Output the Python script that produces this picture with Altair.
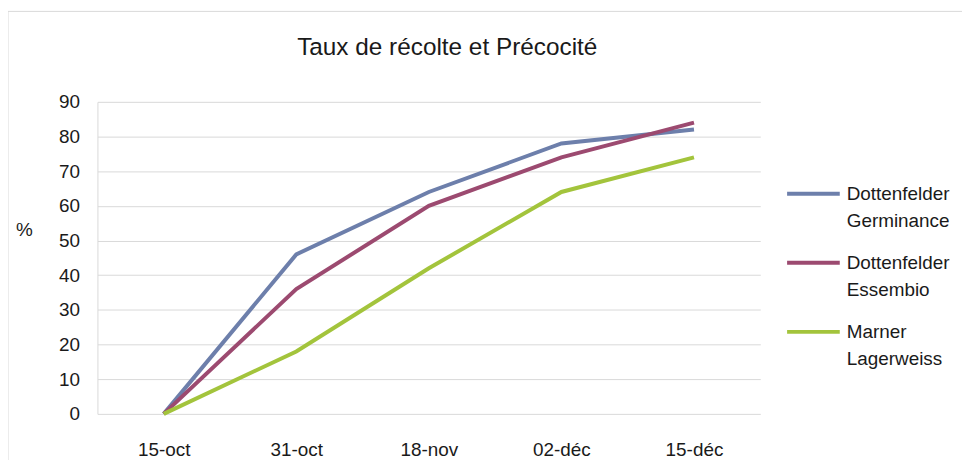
import altair as alt
import pandas as pd

title_text = "Taux de récolte et Précocité"
dates = ["15-oct", "31-oct", "18-nov", "02-déc", "15-déc"]
series_names = ["Dottenfelder Germinance", "Dottenfelder Essembio", "Marner Lagerweiss"]
germinance = [0, 46, 64, 78, 82]
essembio = [0, 36, 60, 74, 84]
lagerweiss = [0, 18, 42, 64, 74]
colors = ["#6d7fab", "#9c4a70", "#a3c43c"]
y_ticks = [0, 10, 20, 30, 40, 50, 60, 70, 80, 90]

rows = []
for name, vals in zip(series_names, [germinance, essembio, lagerweiss]):
    for d, v in zip(dates, vals):
        rows.append({"date": d, "value": v, "series": name})
df = pd.DataFrame(rows)

FONT = "Liberation Sans"
FS = 19

lines = alt.Chart(df).mark_line(strokeWidth=4).encode(
    x=alt.X("date:N", sort=dates,
            scale=alt.Scale(type="point", padding=0.5),
            axis=alt.Axis(title=None, grid=False, domain=False, ticks=False,
                          labelAngle=0, labelPadding=27, labelFontSize=FS,
                          labelFont=FONT, labelColor="#1a1a1a")),
    y=alt.Y("value:Q", scale=alt.Scale(domain=[0, 90], nice=False),
            axis=alt.Axis(values=y_ticks, title="%", titleAngle=0, titleX=-74, titleY=129,
                          titleAlign="center", titleBaseline="middle", titleFontSize=FS,
                          titleFontWeight="normal", titleFont=FONT, titleColor="#1a1a1a",
                          grid=True, gridColor="#d9d9d9", gridWidth=1,
                          domain=True, domainColor="#d9d9d9", domainWidth=1,
                          ticks=False, labelPadding=18, labelFontSize=FS,
                          labelFont=FONT, labelColor="#1a1a1a")),
    color=alt.Color("series:N", sort=series_names,
                    scale=alt.Scale(domain=series_names, range=colors),
                    legend=alt.Legend(orient="none", legendX=692, legendY=64, title=None,
                                      symbolType="stroke", symbolSize=2809,
                                      symbolStrokeWidth=4, labelFontSize=FS, labelFont=FONT,
                                      labelColor="#1a1a1a", labelLimit=300,
                                      labelExpr="split(datum.label, ' ')",
                                      rowPadding=3.5, labelOffset=5)),
)

border = alt.Chart(pd.DataFrame({"a": [0]})).mark_rect(
    fill=None, stroke="#d9d9d9", strokeWidth=1
).encode(
    x=alt.value(-90), x2=alt.value(882), y=alt.value(-91), y2=alt.value(376)
)

title = alt.Chart(pd.DataFrame({"t": [title_text]})).mark_text(
    fontSize=24.5, font=FONT, color="#1a1a1a", align="center", baseline="middle"
).encode(
    text="t:N", x=alt.value(352), y=alt.value(-54)
)

chart = alt.layer(border, title, lines).properties(
    width=667, height=314,
    padding={"left": 90, "top": 93, "right": 203, "bottom": 45},
    autosize=alt.AutoSizeParams(type="none"),
).configure(
    background="white",
    view=alt.ViewConfig(stroke=None),
    style={"guide-label": {"lineHeight": 27}},
)

chart.save("out.html", embed_options={"renderer": "svg", "actions": False})
